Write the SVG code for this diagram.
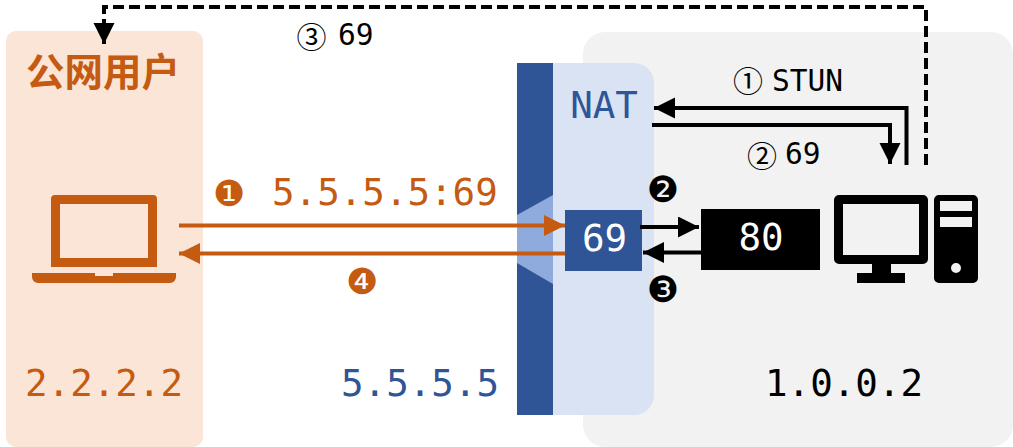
<svg xmlns="http://www.w3.org/2000/svg" width="1013" height="447" viewBox="0 0 1013 447">
<style>
text{font-family:"DejaVu Sans Mono","Liberation Mono",monospace}
.big{font-size:37.5px}
.mid{font-size:29.5px;fill:#000}
.or{fill:#c55a11}.bl{fill:#2f5597}.k{fill:#000}.w{fill:#fff}
.cir{font-family:"DejaVu Sans",sans-serif;font-size:36px;text-anchor:middle}
.cirl{font-family:"Noto Sans CJK SC",sans-serif;font-size:30px;text-anchor:middle;fill:#000}
.lo{fill:none;stroke:#c55a11;stroke-width:4}
.lk{fill:none;stroke:#000;stroke-width:4}
.da{stroke-dasharray:11 5;stroke-width:4;fill:none;stroke:#000}
</style>
<defs>
<marker id="hk" markerUnits="userSpaceOnUse" markerWidth="22" markerHeight="22" refX="21" refY="10.5" orient="auto"><path d="M0 0L21 10.5L0 21Z" fill="#000"/></marker>
<marker id="ho" markerUnits="userSpaceOnUse" markerWidth="22" markerHeight="22" refX="21" refY="10.5" orient="auto"><path d="M0 0L21 10.5L0 21Z" fill="#c55a11"/></marker>
</defs>
<g id="internal-zone"><rect x="583" y="32" width="430" height="415" rx="22" fill="#f2f2f2"/></g>
<g id="public-user">
<rect x="6" y="31" width="197" height="416" rx="10" fill="#fbe5d6"/>
<text x="103" y="86" text-anchor="middle" font-size="38.500" font-weight="700" class="or" style="font-family:'Noto Sans CJK SC',sans-serif">公网用户</text>
<path fill-rule="evenodd" class="or" d="M55 195H153a4 4 0 0 1 4 4V267H51V199a4 4 0 0 1 4-4ZM60 204V258H148V204Z"/>
<path class="or" d="M32 273H95V276H113V273H176V277a6 6 0 0 1-6 6H38a6 6 0 0 1-6-6Z"/>
<text x="25" y="396" class="big or">2.2.2.2</text>
</g>
<g id="nat">
<rect x="517" y="63" width="36" height="352" fill="#2f5597"/>
<path d="M553 63H634a20 20 0 0 1 20 20V395a20 20 0 0 1-20 20H553Z" fill="#dae3f3"/>
<path d="M553 195L517 215V263L553 284Z" fill="#8faadc"/>
<text x="604" y="118" text-anchor="middle" class="big bl">NAT</text>
<text x="341" y="396" class="big bl">5.5.5.5</text>
</g>
<g id="port-69"><rect x="565" y="210" width="77" height="61" fill="#2f5597"/><text x="604.500" y="251" text-anchor="middle" class="big w">69</text></g>
<g id="port-80"><rect x="701" y="209" width="119" height="61" fill="#000"/><text x="761" y="250" text-anchor="middle" class="big w">80</text></g>
<g id="host">
<path fill-rule="evenodd" class="k" d="M839 195H923a5 5 0 0 1 5 5V259a5 5 0 0 1-5 5H891V273H905V283H857V273H872V264H839a5 5 0 0 1-5-5V200a5 5 0 0 1 5-5ZM843 204V255H919V204Z"/>
<path fill-rule="evenodd" class="k" d="M939 195H973a5 5 0 0 1 5 5V278a5 5 0 0 1-5 5H939a5 5 0 0 1-5-5V200a5 5 0 0 1 5-5ZM940 201V211H972V201ZM940 217V227H972V217ZM961 268a5 5 0 1 0-10 0a5 5 0 1 0 10 0Z"/>
<text x="765" y="396" class="big k">1.0.0.2</text>
</g>
<g id="connectors">
<path class="lo" d="M179 225.500H565" marker-end="url(#ho)"/>
<path class="lo" d="M565 253.500H179" marker-end="url(#ho)"/>
<path class="lk" d="M640 227H699" marker-end="url(#hk)"/>
<path class="lk" d="M701 252.500H643" marker-end="url(#hk)"/>
<path class="lk" d="M906.500 165V108H654" marker-end="url(#hk)"/>
<path class="lk" d="M652 125H890V164" marker-end="url(#hk)"/>
<path class="da" d="M926 165V7H104V44" marker-end="url(#hk)"/>
</g>
<g id="labels">
<text x="229" y="206" class="cir or">❶</text>
<text x="272" y="205" class="big or">5.5.5.5:69</text>
<text x="362" y="294" class="cir or">❹</text>
<text x="663" y="202" class="cir k">❷</text>
<text x="663" y="302" class="cir k">❸</text>
<text x="748" y="91.500" class="cirl">①</text>
<text x="772" y="91" class="mid">STUN</text>
<text x="762" y="167" class="cirl">②</text>
<text x="785" y="164" class="mid">69</text>
<text x="311.500" y="47.500" class="cirl">③</text>
<text x="338" y="45" class="mid">69</text>
</g>
</svg>
